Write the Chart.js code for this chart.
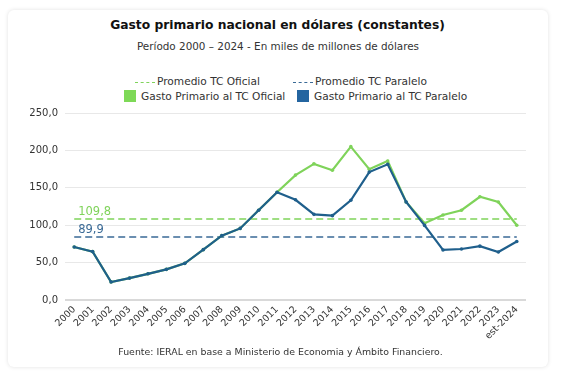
<!DOCTYPE html>
<html><head><meta charset="utf-8">
<script src="https://cdn.jsdelivr.net/npm/chart.js@4.4.1/dist/chart.umd.min.js"></script>
<style>
html,body{margin:0;padding:0;background:#fff;width:561px;height:377px;overflow:hidden;font-family:"DejaVu Sans",sans-serif;}
#card{position:absolute;left:8px;top:10px;width:540px;height:357px;background:#fff;border-radius:6px;box-shadow:0 0 4px rgba(0,0,0,0.12);}
#title{position:absolute;left:0;width:555px;top:18px;text-align:center;font-weight:bold;font-size:12.3px;color:#111;}
#sub{position:absolute;left:0;width:556px;top:40px;text-align:center;font-size:10.4px;color:#333;}
.leg{position:absolute;font-size:10.6px;color:#333;white-space:nowrap;line-height:13px;}
.dash{display:inline-block;width:20px;height:0;border-top:1.5px dashed;vertical-align:middle;margin-right:2px;}
.sq{display:inline-block;width:12px;height:12px;vertical-align:-2px;margin-right:5px;}
#src{position:absolute;left:0;width:561px;top:346px;text-align:center;font-size:9.4px;color:#333;z-index:2;}
#wrap{position:absolute;left:0;top:100px;width:561px;height:262px;}
</style></head>
<body>
<div id="card"></div>
<div id="title">Gasto primario nacional en dólares (constantes)</div>
<div id="sub">Período 2000 – 2024 - En miles de millones de dólares</div>
<div class="leg" style="left:135px;top:75px"><span class="dash" style="border-color:#7fd35a"></span>Promedio TC Oficial</div>
<div class="leg" style="left:293px;top:75px"><span class="dash" style="border-color:#3a6a96"></span>Promedio TC Paralelo</div>
<div class="leg" style="left:124px;top:90px"><span class="sq" style="background:#7ed957"></span>Gasto Primario al TC Oficial</div>
<div class="leg" style="left:297px;top:90px"><span class="sq" style="background:#2465a0"></span>Gasto Primario al TC Paralelo</div>
<div id="wrap"><canvas id="c"></canvas></div>
<div id="src">Fuente: IERAL en base a Ministerio de Economia y Ámbito Financiero.</div>
<script>
const years = ["2000","2001","2002","2003","2004","2005","2006","2007","2008","2009","2010","2011","2012","2013","2014","2015","2016","2017","2018","2019","2020","2021","2022","2023","est-2024"];
const gastoOficial = [70.8,64.7,24,29.3,35,41,49,67.3,86,95.7,120,144,167,182,173.5,205,174.8,185.8,131,102.7,113.6,120,138,131,100];
const gastoParalelo = [70.8,64.7,24,29.3,35,41,49,67.3,86,95.7,120,144,134,114.5,112.8,133.3,171,181.4,131,99.7,66.9,68.2,72,64.2,78.2];
const promedioOficialLinea = 108.3;
const promedioParaleloLinea = 84.3;
const promedioLabels = ["109,8","89,9"];
const yTicks = [0,50,100,150,200,250];

const FONT = "DejaVu Sans";
const green = "#7fd35a", blue = "#1f5f8c";

const avgLabelPlugin = {
  id:'avgLabels',
  afterDatasetsDraw(chart){
    const ctx = chart.ctx, xs = chart.scales.x, ys = chart.scales.y;
    const x = xs.getPixelForValue(0) + 4;
    ctx.save();
    ctx.font = "11.5px " + FONT;
    ctx.textAlign = 'left'; ctx.textBaseline = 'bottom';
    ctx.fillStyle = green;
    ctx.fillText(promedioLabels[0], x, ys.getPixelForValue(promedioOficialLinea) - 1);
    ctx.fillStyle = "#3a6a96";
    ctx.fillText(promedioLabels[1], x, ys.getPixelForValue(promedioParaleloLinea) - 1);
    ctx.restore();
  }
};

new Chart(document.getElementById('c'), {
  type:'line',
  data:{
    labels: years,
    datasets:[
      {label:'Promedio TC Oficial', data:[{x:years[0],y:promedioOficialLinea},{x:years[years.length-1],y:promedioOficialLinea}], borderColor:green, borderWidth:1.5, borderDash:[7,4], pointRadius:0, order:3},
      {label:'Promedio TC Paralelo', data:[{x:years[0],y:promedioParaleloLinea},{x:years[years.length-1],y:promedioParaleloLinea}], borderColor:"#3a6a96", borderWidth:1.5, borderDash:[7,4], pointRadius:0, order:2},
      {label:'Gasto Primario al TC Oficial', data:gastoOficial, borderColor:green, backgroundColor:green, borderWidth:2.2, pointRadius:1.8, pointBorderWidth:0, tension:0, order:1},
      {label:'Gasto Primario al TC Paralelo', data:gastoParalelo, borderColor:blue, backgroundColor:blue, borderWidth:2.2, pointRadius:1.8, pointBorderWidth:0, tension:0, order:0}
    ]
  },
  options:{
    responsive:true, maintainAspectRatio:false, animation:false,
    layout:{padding:{left:0,right:35,top:9,bottom:0}},
    plugins:{legend:{display:false}, tooltip:{enabled:false}},
    scales:{
      x:{
        offset:true,
        grid:{display:false, drawTicks:false},
        border:{display:false},
        ticks:{font:{family:FONT,size:9.5}, color:'#333', minRotation:45, maxRotation:45, autoSkip:false, padding:4},
        afterFit(s){ s.height = 62; }
      },
      y:{
        min:0, max:250,
        afterBuildTicks(s){ s.ticks = yTicks.map(v=>({value:v})); },
        grid:{color:(c)=> c.tick && c.tick.value===0 ? '#d9d9d9' : '#e8e8e8', lineWidth:(c)=> c.tick && c.tick.value===0 ? 2 : 1, drawTicks:false},
        border:{display:false},
        ticks:{font:{family:FONT,size:10}, color:'#333', padding:7, callback:(v)=> v.toFixed(1).replace('.',',')},
        afterFit(s){ s.width = 65; }
      }
    }
  },
  plugins:[avgLabelPlugin]
});
</script>
</body></html>
